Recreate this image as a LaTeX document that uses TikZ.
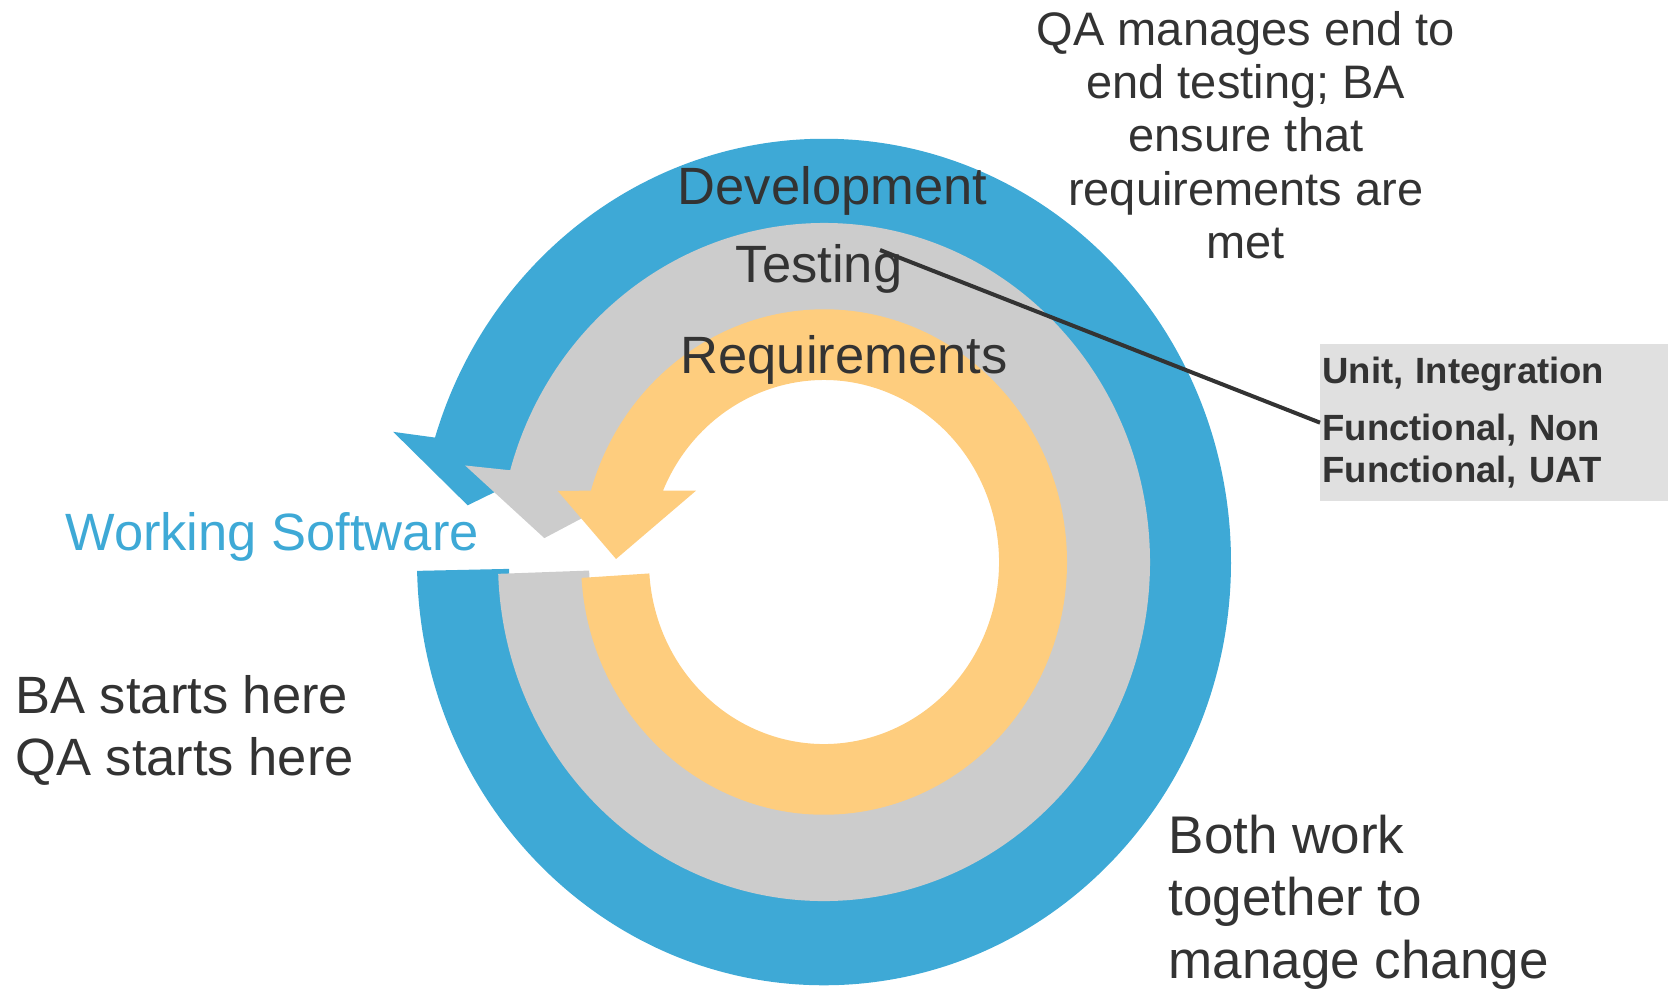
\documentclass[tikz,border=0pt]{standalone}
\usepackage{fontspec}
\setmainfont{Liberation Sans}
\usepackage{tikz}
\usetikzlibrary{positioning}
\tikzstyle{cycleSheet} = [x = .5pt, y = -.5pt]
\definecolor{devColor}{RGB}{62,169,214}
\definecolor{testColor}{RGB}{204,204,204}
\definecolor{reqColor}{RGB}{254,205,126}
\definecolor{inkColor}{RGB}{51,51,51}
\definecolor{boxColor}{RGB}{224,224,224}
\tikzstyle{ringLabel} = [text=inkColor, inner sep=0, anchor=base, font=\fontsize{26.25}{31}\selectfont]
\tikzstyle{sideNote} = [text=inkColor, inner sep=0, align=left, anchor=base west]
\tikzstyle{hookLine} = [color=inkColor, line width=2pt]
\newcommand{\ringArrow}[9]{\fill [#1] (#2:#3) arc [start angle = #2, end angle = #4, radius = #3] -- #7 -- #8 -- #9 -- (#6:#5) arc [start angle = #6, end angle = #2, radius = #5] -- cycle;}

\begin{document}
\begin{tikzpicture}[cycleSheet]
  \useasboundingbox (0,0) rectangle (1673,992);
  \begin{scope}[shift = {(824,562)}, yscale = 1.04]
    \ringArrow{devColor}{178.8}{407}{-162.9}{315}{-160.0}{(-163.8:448.6)}{(-171.3:360.5)}{(-158.05:274.2)}
    \ringArrow{testColor}{178}{326}{-164.3}{235}{-160.1}{(-165.5:370.7)}{(-175.3:280.6)}{(-156.7:191.6)}
    \ringArrow{reqColor}{176.4}{243}{-163.6}{175}{-156.9}{(-165.6:275)}{(-179.2:208)}{(-151.8:145.2)}
  \end{scope}

  \node [ringLabel] (dev) at (832.5,204.3) {Development};
  \node [ringLabel] (test) at (819,282.3) {Testing};
  \node [ringLabel] (req) at (844,373.3) {Requirements};
  \node [ringLabel, anchor=base west, text=devColor] (software) at (65,550) {Working Software};

  \node [sideNote, align=center, anchor=base, font=\fontsize{23.5}{26.65}\selectfont] (qaNote) at (1245.8,258.3)
    {QA manages end to\\end testing; BA\\ensure that\\requirements are\\met};
  \node [sideNote, font=\fontsize{26.25}{30.85}\selectfont] (startNote) at (15,775)
    {BA starts here\\QA starts here};
  \node [sideNote, font=\fontsize{26.5}{31.25}\selectfont] (changeNote) at (1168.3,978.3)
    {Both work\\together to\\manage change};

  \node [anchor=north west, fill=boxColor, text=inkColor, text width=172pt, inner xsep=1pt, inner ysep=6.5pt,
         align=left, font=\bfseries\fontsize{18.25}{20.85}\selectfont] (labelBox) at (1320,344)
    {Unit, Integration\\[7.5pt]Functional, Non\\Functional, UAT};

  \coordinate (testHook) at (880,250);
  \draw [hookLine] (testHook) -- (labelBox.west);
\end{tikzpicture}
\end{document}
